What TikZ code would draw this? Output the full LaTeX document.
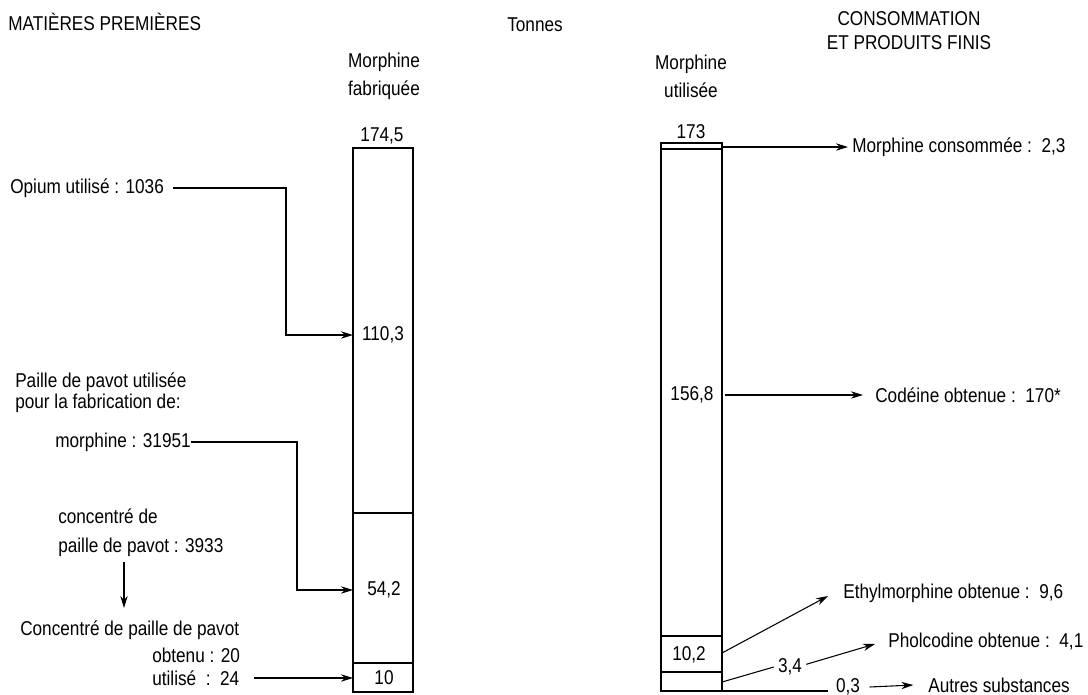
\documentclass[tikz,border=0pt]{standalone}
\usepackage{fontspec}
\setmainfont[FakeStretch=0.86]{Liberation Sans}
\usetikzlibrary{arrows.meta}
\begin{document}
\begin{tikzpicture}[x=0.75pt,y=-0.75pt,
  font=\fontsize{15}{16}\selectfont,
  lbl/.style={inner sep=0pt},
  lw/.style={inner sep=0pt,anchor=west},
  bar/.style={line width=1.1pt},
  conn/.style={line width=0.8pt},
  arr/.style={conn,-{Stealth[length=9pt,width=5.5pt]}}]
\useasboundingbox[fill=white] (0,0) rectangle (1088,695);

% headers
\node[lw] (hmat) at (8,22) {MATIÈRES PREMIÈRES};
\node[lbl] (hton) at (535,25) {Tonnes};
\node[lbl,align=center] (hcons) at (909,31) {CONSOMMATION\\[2pt]ET PRODUITS FINIS};
\node[lbl,align=center] (hfab) at (384,76) {Morphine\\[5pt]fabriquée};
\node[lbl,align=center] (huti) at (691,76) {Morphine\\[5pt]utilisée};
\node[lbl] (t1745) at (382,136) {174,5};
\node[lbl] (t173) at (691,132) {173};

% left bar
\draw[bar] (353,148) rectangle (413,692);
\draw[bar] (353,513) -- (413,513);
\draw[bar] (353,663) -- (413,663);
\coordinate (Lin110) at (353,335);
\coordinate (Lin54) at (353,590);
\coordinate (Lin10) at (353,678);
\node[lbl] (v110) at (383,335) {110,3};
\node[lbl] (v54) at (384,590) {54,2};
\node[lbl] (v10) at (384,678) {10};

% right bar
\draw[bar] (661,143) rectangle (722,691);
\draw[bar] (661,149) -- (722,149);
\draw[bar] (661,636) -- (722,636);
\draw[bar] (661,672) -- (722,672);
\coordinate (Rout173) at (722,147);
\coordinate (Rout156) at (722,395);
\coordinate (Rout102) at (722,653);
\coordinate (Rout34) at (722,682);
\coordinate (Rout03) at (722,691);
\node[lbl] (v156) at (692,395) {156,8};
\node[lbl] (v102) at (689,655) {10,2};

% left texts
\node[lw] (opium) at (10,188) {Opium utilisé : 1036};
\node[lw,align=left] (paille) at (15,393) {Paille de pavot utilisée\\pour la fabrication de:};
\node[lw] (morph) at (55,442) {morphine : 31951};
\node[lw] (conc1) at (58,516) {concentré de};
\node[lw] (conc2) at (58,547) {paille de pavot : 3933};
\node[lw] (concp) at (20,630) {Concentré de paille de pavot};
\node[lw] (obt) at (152,655) {obtenu : 20};
\node[lw] (util) at (152,678) {utilisé~~:~~24};

\coordinate (opbend) at (286,335);
\coordinate (mobend) at (297,590);
\coordinate (dtop) at (124,562);
\coordinate (dbot) at (124,608);
\draw[arr] ([xshift=7pt]opium.east) -| (opbend) -- (Lin110);
\draw[arr] (morph.east) -| (mobend) -- (Lin54);
\draw[arr] (dtop) -- (dbot);
\draw[arr] ([xshift=11pt]util.east) -- (Lin10);

% right texts
\node[lw] (mcons) at (852,147) {Morphine consommée :~~2,3};
\node[lw] (cod) at (875,395) {Codéine obtenue :~~170*};
\node[lw] (eth) at (843,593) {Ethylmorphine obtenue :~~9,6};
\node[lw] (pho) at (888,642) {Pholcodine obtenue :~~4,1};
\node[lbl] (v34) at (790,667) {3,4};
\node[lbl] (v03) at (848,687) {0,3};
\node[lw] (autres) at (928,685) {Autres substances};
\coordinate (ethtip) at (828,596);
\coordinate (photip) at (875,644);
\coordinate (botend) at (828,691);

\draw[arr] (Rout173) -- ([xshift=-3pt]mcons.west);
\draw[arr] ([xshift=2pt]Rout156) -- ([xshift=-9pt]cod.west);
\draw[arr] (Rout102) -- (ethtip);
\draw[conn] (Rout34) -- ([xshift=-3pt]v34.west);
\draw[arr] ([xshift=3pt,yshift=2pt]v34.east) -- (photip);
\draw[conn] (Rout03) -- (botend);
\draw[arr] ([xshift=7pt]v03.east) -- ([xshift=-11pt]autres.west);
\end{tikzpicture}
\end{document}
